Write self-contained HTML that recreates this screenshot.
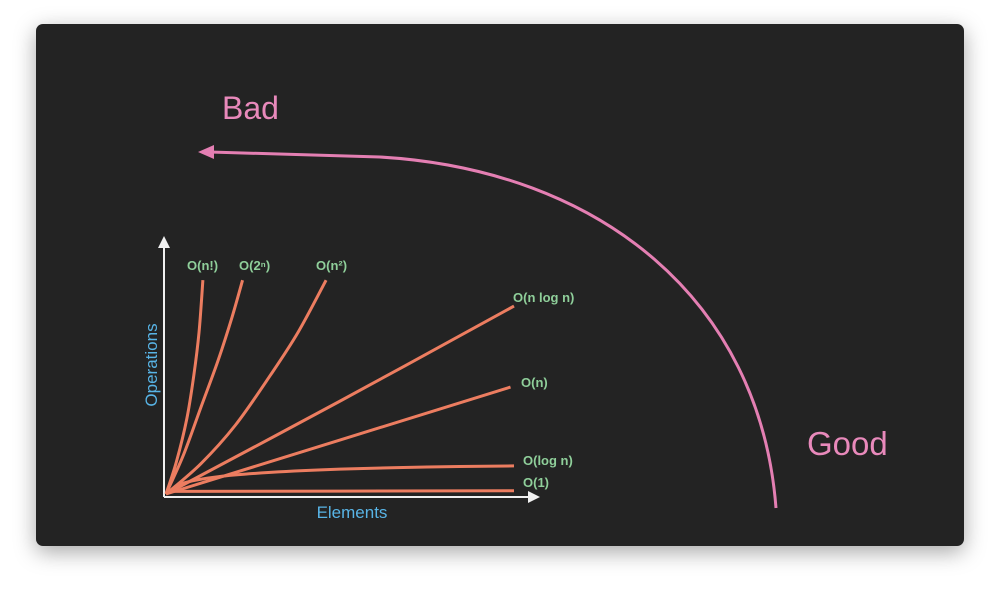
<!DOCTYPE html>
<html><head><meta charset="utf-8"><style>
html,body{margin:0;padding:0;background:#fff;width:1000px;height:594px;overflow:hidden}
#panel{position:absolute;left:36px;top:24px;width:928px;height:522px;background:#232323;border-radius:7px;box-shadow:0 6px 22px rgba(0,0,0,0.35)}
svg{position:absolute;left:0;top:0}
text{font-family:"Liberation Sans",sans-serif}
</style></head><body>
<div id="panel"></div>
<svg id="chart" width="1000" height="594">
  <defs>
    <marker id="wa" markerWidth="6" markerHeight="6" refX="3" refY="3" orient="auto"><path d="M0,0 L6,3 L0,6 Z" fill="#f0f0f0"/></marker>
  </defs>
  <text x="222" y="119" font-size="32" fill="#e889bb">Bad</text>
  <text x="807" y="455" font-size="33" fill="#e889bb">Good</text>
  <path d="M210 152 L380 157 C600 170,760 300,776 508" fill="none" stroke="#e47fb3" stroke-width="3"/>
  <path d="M198 152 L214 145 L214 159 Z" fill="#e47fb3"/>
  <line x1="164" y1="497" x2="164" y2="242" stroke="#f0f0f0" stroke-width="2" marker-end="url(#wa)"/>
  <line x1="164" y1="497" x2="534" y2="497" stroke="#f0f0f0" stroke-width="2" marker-end="url(#wa)"/>
  <text x="352" y="518" font-size="17" fill="#58b4e6" text-anchor="middle">Elements</text>
  <text transform="translate(157,365) rotate(-90)" font-size="17" fill="#58b4e6" text-anchor="middle">Operations</text>
  <g id="series"></g>
</svg>
<script>
const seriesNames = ["O(n!)","O(2ⁿ)","O(n²)","O(n log n)","O(n)","O(log n)","O(1)"];
const xsFact = [0,3,6,8,9.5,10.6];      const ysFact = [0,15,35,55,75,99];
const xsExp  = [0,5,10,15,19,22];       const ysExp  = [0,18,40,62,82,99];
const xsSq   = [0,10,20,30,38,46];      const ysSq   = [0,14,32,55,75,99];
const xsNlog = [0,50,100];              const ysNlog = [0,43,87];
const xsLin  = [0,99];                  const ysLin  = [0,49.5];
const xsLog  = [0,5,15,30,50,75,100];   const ysLog  = [0,5,8,10,11.5,12.5,13];
const xsConst= [0,100];                 const ysConst= [1.2,1.5];
const labelX = ["187","239","316","513","521","523","523"];
const labelY = ["270","270","270","302","387","465","487"];

const X0=166,X1=514,Y0=494,Y1=278;
function sx(v){return X0+(X1-X0)*v/100;}
function sy(v){return Y0-(Y0-Y1)*v/100;}
function smooth(xs,ys){
  const p=xs.map((x,i)=>[sx(x),sy(ys[i])]);
  let d="M"+p[0][0]+" "+p[0][1];
  for(let i=0;i<p.length-1;i++){
    const a=p[i-1]||p[i],b=p[i],c=p[i+1],e=p[i+2]||c;
    const c1=[b[0]+(c[0]-a[0])/6,b[1]+(c[1]-a[1])/6];
    const c2=[c[0]-(e[0]-b[0])/6,c[1]-(e[1]-b[1])/6];
    d+=" C"+c1[0]+" "+c1[1]+","+c2[0]+" "+c2[1]+","+c[0]+" "+c[1];
  }
  return d;
}
const all=[[xsFact,ysFact],[xsExp,ysExp],[xsSq,ysSq],[xsNlog,ysNlog],[xsLin,ysLin],[xsLog,ysLog],[xsConst,ysConst]];
const g=document.getElementById("series");
const NS="http://www.w3.org/2000/svg";
all.forEach((s,i)=>{
  const p=document.createElementNS(NS,"path");
  p.setAttribute("d",smooth(s[0],s[1]));
  p.setAttribute("fill","none");
  p.setAttribute("stroke","#ec7d60");
  p.setAttribute("stroke-width","3");
  
  
  g.appendChild(p);
  const t=document.createElementNS(NS,"text");
  t.setAttribute("x",labelX[i]);
  t.setAttribute("y",labelY[i]);
  t.setAttribute("font-size","13");
  t.setAttribute("font-weight","bold");
  t.setAttribute("fill","#8fcf9a");
  t.textContent=seriesNames[i];
  
  
  g.appendChild(t);
});
</script>
</body></html>
